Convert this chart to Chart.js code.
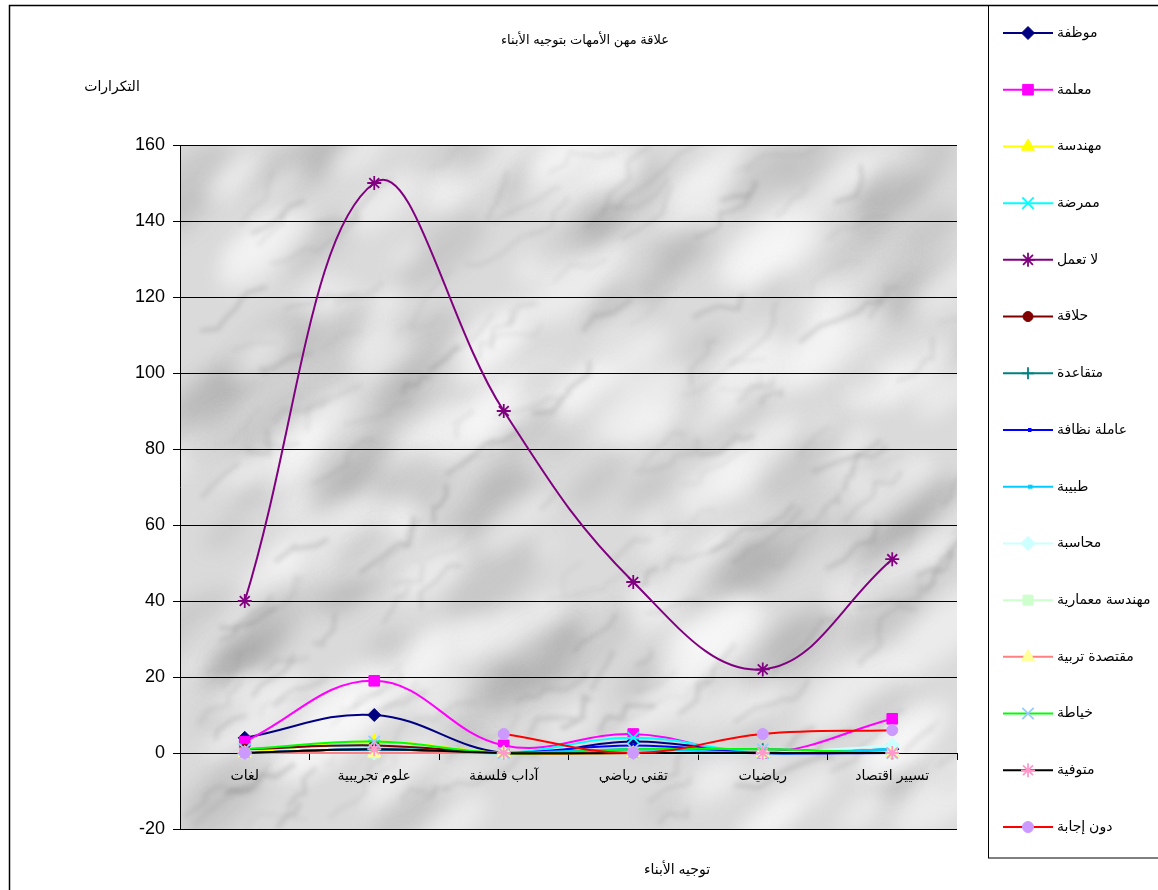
<!DOCTYPE html>
<html lang="ar">
<head>
<meta charset="utf-8">
<title>علاقة مهن الأمهات بتوجيه الأبناء</title>
<script src="https://cdn.jsdelivr.net/npm/chart.js@4/dist/chart.umd.min.js"></script>
<style>
  html, body { margin: 0; padding: 0; background: #fff; }
  #wrap { width: 1158px; height: 890px; position: relative; }
</style>
</head>
<body>
<div id="wrap"><canvas id="c" width="1158" height="890"></canvas></div>
<script>
// Orientation of the children (x categories)
const categories = ['لغات', 'علوم تجريبية', 'آداب فلسفة', 'تقني رياضي', 'رياضيات', 'تسيير اقتصاد'];

// Mothers' occupations (series names)
const seriesNames = ['موظفة', 'معلمة', 'مهندسة', 'ممرضة', 'لا تعمل', 'حلاقة', 'متقاعدة', 'عاملة نظافة',
  'طبيبة', 'محاسبة', 'مهندسة معمارية', 'مقتصدة تربية', 'خياطة', 'متوفية', 'دون إجابة'];

// Frequencies per occupation, one value per category
const employee      = [4, 10, 0, 3, 0, 1];
const teacher       = [3, 19, 2, 5, 0, 9];
const engineer      = [0, 3, 0, 0, 0, 0];
const nurse         = [1, 2, 0, 4, 0, 1];
const notWorking    = [40, 150, 90, 45, 22, 51];
const hairdresser   = [1, 2, 0, 0, 0, 0];
const retired       = [0, 1, 0, 1, 1, 0];
const cleaner       = [0, 1, 0, 2, 0, 0];
const doctor        = [0, 1, 0, 1, 0, 1];
const accountant    = [0, 0, 0, 0, 0, 2];
const architect     = [0, 0, 0, 0, 0, 0];
const bursar        = [0, 0, 0, 0, 0, 0];
const seamstress    = [1, 3, 0, 1, 1, 0];
const deceased      = [0, 1, 0, 0, 0, 0];
const noAnswer      = [0, null, 5, 0, 5, 6];

// Y axis ticks
const yTicks = [-20, 0, 20, 40, 60, 80, 100, 120, 140, 160];

const seriesValues = [employee, teacher, engineer, nurse, notWorking, hairdresser, retired, cleaner,
  doctor, accountant, architect, bursar, seamstress, deceased, noAnswer];

// Line colour, marker fill, marker shape, marker radius
const styles = [
  ['#000080', '#000080', 'rectRot', 6.5],
  ['#FF00FF', '#FF00FF', 'rect', 7.5],
  ['#FFFF00', '#FFFF00', 'triangle', 7.5],
  ['#00FFFF', '#00FFFF', 'crossRot', 8],
  ['#800080', '#800080', 'star', 7],
  ['#800000', '#800000', 'circle', 5],
  ['#008080', '#008080', 'cross', 6],
  ['#0000FF', '#0000FF', 'dash', 3.5],
  ['#00CCFF', '#00CCFF', 'dash', 4.5],
  ['#CCFFFF', '#CCFFFF', 'rectRot', 7],
  ['#CCFFCC', '#CCFFCC', 'rect', 7],
  ['#FF8080', '#FFFF99', 'triangle', 7.5],
  ['#00FF00', '#99CCFF', 'crossRot', 8],
  ['#000000', '#FF99CC', 'star', 7],
  ['#FF0000', '#CC99FF', 'circle', 5.5]
];

const FONT = "Arial, 'Liberation Sans', 'DejaVu Sans', sans-serif";

const datasets = seriesNames.map((name, i) => {
  const [line, fill, shape, r] = styles[i];
  const strokeOnly = shape === 'crossRot' || shape === 'cross' || shape === 'star' || shape === 'dash';
  return {
    label: name,
    data: seriesValues[i],
    borderColor: line,
    borderWidth: 2,
    tension: 0.4,
    spanGaps: false,
    pointStyle: shape,
    pointRadius: r,
    pointBackgroundColor: fill,
    pointBorderColor: fill,
    pointBorderWidth: strokeOnly ? (shape === 'dash' ? 4 : 1.8) : 1,
    fill: false,
    order: seriesNames.length - i
  };
});

// Marble-like texture for the plot area (deterministic generator)
function marbleTexture(w, h) {
  const c = document.createElement('canvas');
  c.width = w; c.height = h;
  const g = c.getContext('2d');
  g.fillStyle = '#dadada';
  g.fillRect(0, 0, w, h);
  let s = 12345;
  const next = () => { s = (s * 16807) % 2147483647; return s / 2147483647; };
  g.filter = 'blur(10px)';
  for (let i = 0; i < 260; i++) {
    const x = next() * w, y = next() * h, r = 15 + next() * 50;
    const v = next();
    g.fillStyle = v < 0.55 ? 'rgba(250,250,250,0.55)' : 'rgba(120,120,120,0.18)';
    g.beginPath();
    g.ellipse(x, y, r, r * 0.4, -0.7, 0, Math.PI * 2);
    g.fill();
  }
  g.filter = 'blur(2.5px)';
  for (let i = 0; i < 160; i++) {
    let x = next() * w, y = next() * h;
    g.strokeStyle = 'rgba(110,110,110,' + (0.08 + next() * 0.2).toFixed(2) + ')';
    g.lineWidth = 1.5 + next() * 3;
    g.beginPath();
    g.moveTo(x, y);
    const n = 3 + Math.floor(next() * 4);
    for (let k = 0; k < n; k++) {
      x += next() * 24 - 2;
      y += -(next() * 20) + 3;
      g.lineTo(x, y);
    }
    g.stroke();
  }
  g.filter = 'none';
  return c;
}

let texture = null;
const backgroundPlugin = {
  id: 'plotBackground',
  beforeDraw(chart) {
    const { ctx, chartArea: a } = chart;
    if (!texture) texture = marbleTexture(Math.round(a.right - a.left), Math.round(a.bottom - a.top));
    ctx.save();
    ctx.fillStyle = '#fff';
    ctx.fillRect(0, 0, chart.width, chart.height);
    ctx.drawImage(texture, a.left, a.top, a.right - a.left, a.bottom - a.top);
    ctx.restore();
  }
};

function drawMarker(ctx, ds, x, y) {
  const opts = { pointStyle: ds.pointStyle, radius: ds.pointRadius, borderWidth: ds.pointBorderWidth, rotation: 0 };
  ctx.fillStyle = ds.pointBackgroundColor;
  ctx.strokeStyle = ds.pointBorderColor;
  ctx.lineWidth = ds.pointBorderWidth;
  Chart.helpers.drawPoint(ctx, opts, x, y);
}

const framePlugin = {
  id: 'frameAndLegend',
  afterDraw(chart) {
    const ctx = chart.ctx;
    ctx.save();
    // outer frame
    ctx.strokeStyle = '#000';
    ctx.lineWidth = 1.5;
    ctx.beginPath();
    ctx.moveTo(9.5, 895); ctx.lineTo(9.5, 5.5); ctx.lineTo(1165, 5.5);
    ctx.stroke();
    // legend frame
    ctx.lineWidth = 1;
    ctx.strokeRect(988.5, 5.5, 200, 852.5);

    // titles
    ctx.fillStyle = '#000';
    ctx.textBaseline = 'middle';
    ctx.textAlign = 'center';
    ctx.font = '13px ' + FONT;
    ctx.fillText('علاقة مهن الأمهات بتوجيه الأبناء', 585, 40);
    ctx.font = '14px ' + FONT;
    ctx.fillText('التكرارات', 112, 87);
    ctx.fillText('توجيه الأبناء', 677, 870);

    // legend entries
    const step = (827 - 33) / 14;
    chart.data.datasets.forEach((ds, i) => {
      const y = 33 + i * step;
      ctx.strokeStyle = ds.borderColor;
      ctx.lineWidth = 2;
      ctx.beginPath();
      ctx.moveTo(1003, y); ctx.lineTo(1053, y);
      ctx.stroke();
      drawMarker(ctx, ds, 1028, y);
      ctx.fillStyle = '#000';
      ctx.textAlign = 'left';
      ctx.font = '14px ' + FONT;
      ctx.fillText(ds.label, 1057, y);
    });
    ctx.restore();
  }
};

new Chart(document.getElementById('c'), {
  type: 'line',
  data: { labels: categories, datasets },
  options: {
    responsive: false,
    animation: false,
    devicePixelRatio: 1,
    layout: { padding: { top: 145, bottom: 61, left: 0, right: 201 } },
    plugins: {
      legend: { display: false },
      title: { display: false },
      tooltip: { enabled: false }
    },
    scales: {
      x: {
        type: 'category',
        offset: true,
        position: { y: 0 },
        grid: { display: true, drawOnChartArea: false, drawTicks: true, tickLength: 6, offset: true, color: '#000', lineWidth: 1 },
        border: { color: '#000', width: 1 },
        ticks: { color: '#000', font: { size: 14, family: FONT }, padding: 9, maxRotation: 0, autoSkip: false }
      },
      y: {
        min: yTicks[0],
        max: yTicks[yTicks.length - 1],
        afterBuildTicks(scale) { scale.ticks = yTicks.map(v => ({ value: v })); },
        afterFit(scale) { scale.width = 180; },
        grid: { color: '#000', lineWidth: 1, drawTicks: true, tickLength: 7 },
        border: { color: '#000', width: 1 },
        ticks: { color: '#000', font: { size: 18, family: FONT }, padding: 8 }
      }
    }
  },
  plugins: [backgroundPlugin, framePlugin]
});
</script>
</body>
</html>
